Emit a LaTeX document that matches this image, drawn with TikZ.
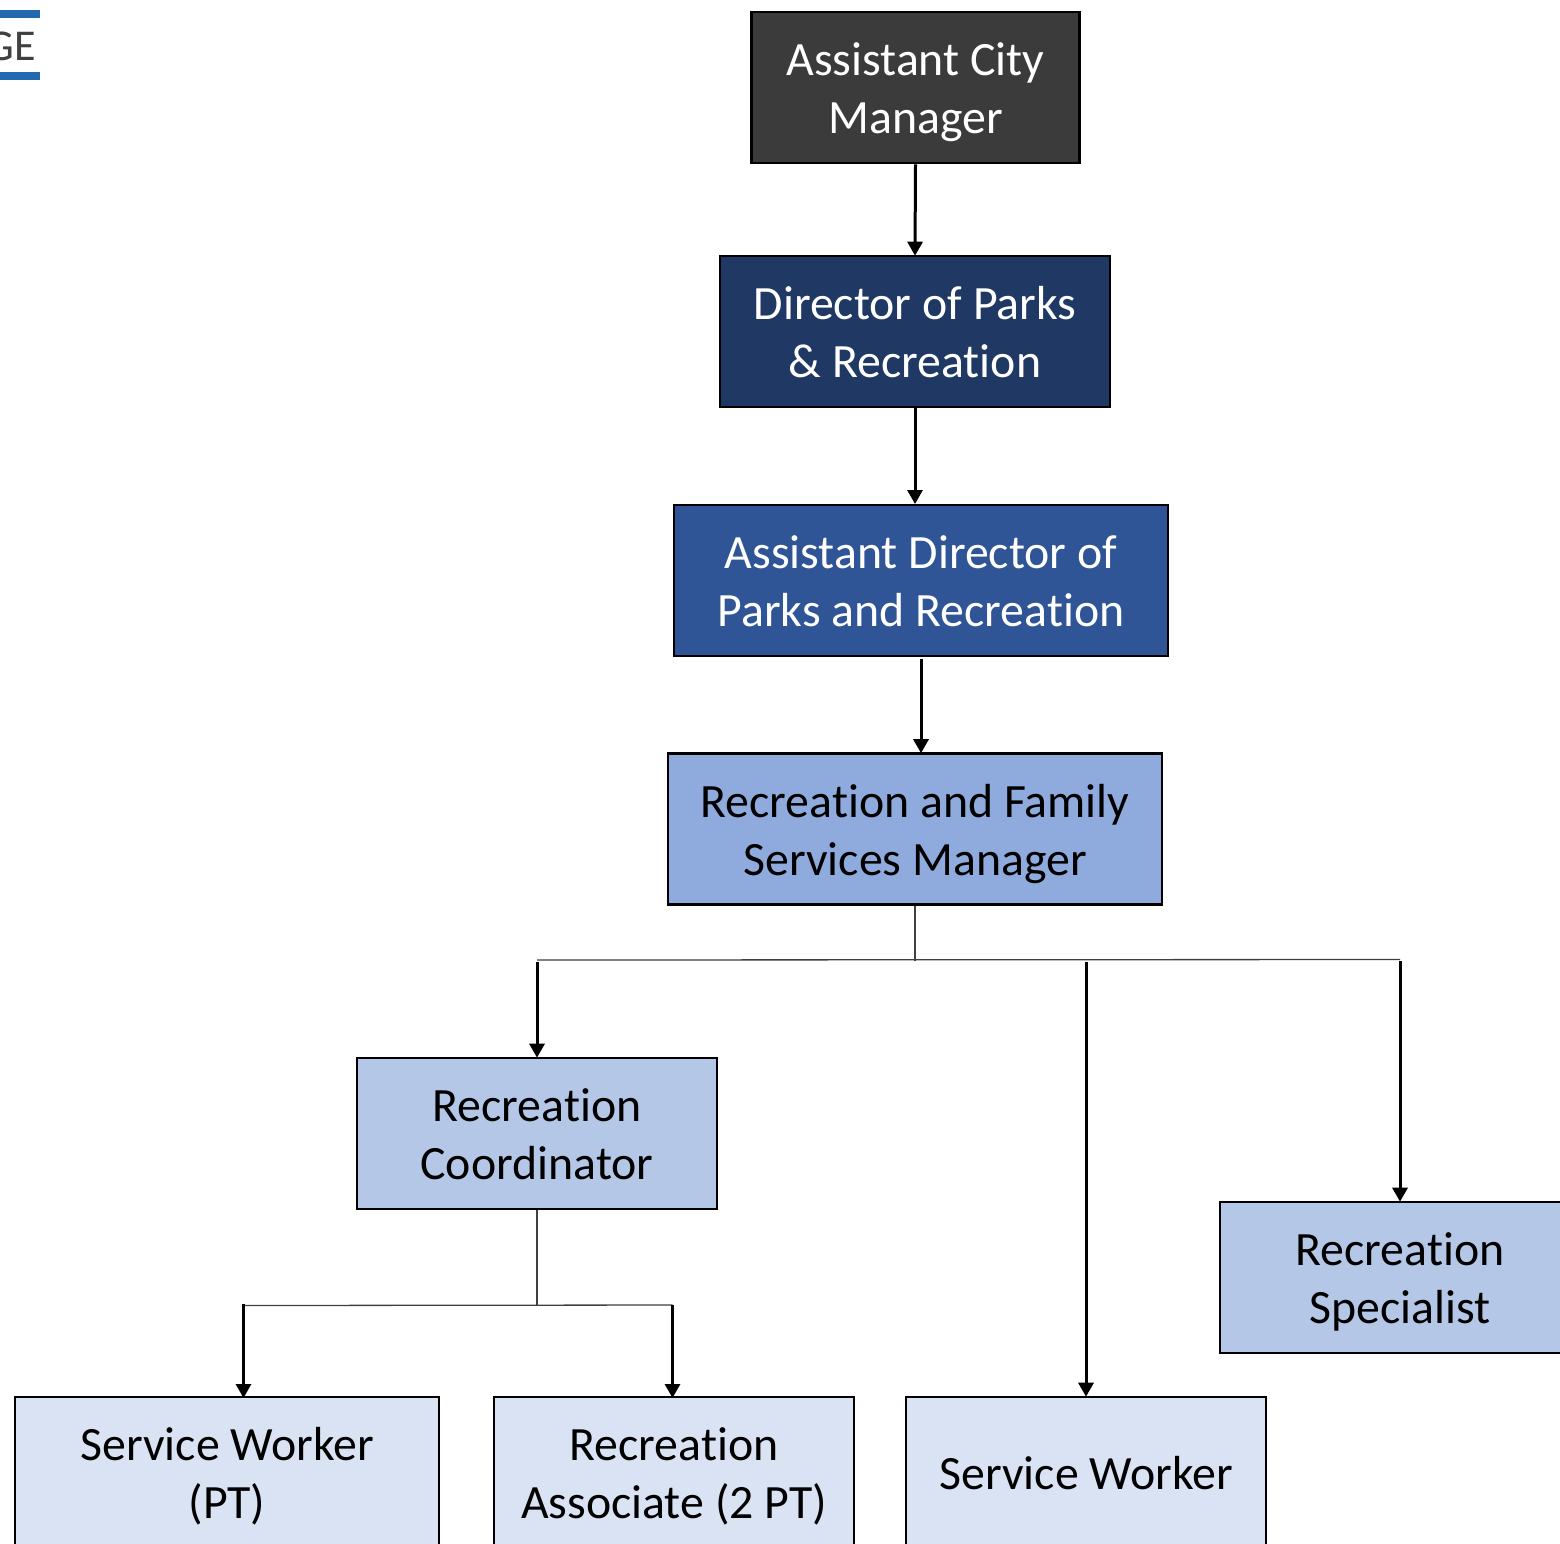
\documentclass[tikz,border=0pt]{standalone}
\usepackage{fontspec}
\setmainfont[RawFeature={-liga}]{Carlito}
\usetikzlibrary{arrows.meta}
\definecolor{cA}{HTML}{3B3B3B}
\definecolor{cB}{HTML}{1F3864}
\definecolor{cC}{HTML}{2F5597}
\definecolor{cD}{HTML}{8FAADC}
\definecolor{cE}{HTML}{B4C7E7}
\definecolor{cF}{HTML}{DAE3F3}
\definecolor{logoblue}{HTML}{2369B0}
\newcommand{\lnst}{\rule[-12pt]{0pt}{58pt}}
\tikzset{
  orgbox/.style={draw=black,line width=2.6pt,align=center,inner sep=0pt,
    minimum height=151pt,font=\fontsize{47.8}{58}\selectfont},
  onward/.style={line width=3pt,-{Triangle[length=14pt,width=15pt]},shorten >=-1pt},
  feeder/.style={line width=1.3pt,draw=black!75},
  logobar/.style={fill=logoblue,draw=none,minimum width=48pt,minimum height=8pt,inner sep=0pt}
}
\begin{document}
\begin{tikzpicture}[x=1pt,y=-1pt]
\useasboundingbox (0,0) rectangle (1560,1543);
\clip (0,0) rectangle (1560,1543);
\fill[white] (0,0) rectangle (1560,1543);
% logo fragment
\node[logobar] (barA) at (16,13.5) {};
\node[logobar] (barB) at (16,76) {};
\node[anchor=east,inner sep=0pt,text=black!75,font=\fontsize{44}{44}\selectfont] (logo) at (36,46.5) {NGE};
% boxes
\node[orgbox,fill=cA,text=white,minimum width=328pt] (acm) at (915.5,87.5) {\lnst Assistant City\\\lnst Manager};
\node[orgbox,fill=cB,text=white,minimum width=390pt] (dir) at (915,331.5) {\lnst Director of Parks\\\lnst\& Recreation};
\node[orgbox,fill=cC,text=white,minimum width=494pt] (adir) at (921,580.5) {\lnst Assistant Director of\\\lnst Parks and Recreation};
\node[orgbox,fill=cD,minimum width=494pt] (mgr) at (915,829) {\lnst Recreation and Family\\\lnst Services Manager};
\node[orgbox,fill=cE,minimum width=360pt] (coord) at (537,1133.5) {\lnst Recreation\\\lnst Coordinator};
\node[orgbox,fill=cE,minimum width=360pt] (spec) at (1400,1277.5) {\lnst Recreation\\\lnst Specialist};
\node[orgbox,fill=cF,minimum width=424pt] (swpt) at (227,1472.5) {\lnst Service Worker\\\lnst (PT)};
\node[orgbox,fill=cF,minimum width=360pt] (assoc) at (674,1472.5) {\lnst Recreation\\\lnst Associate (2 PT)};
\node[orgbox,fill=cF,minimum width=360pt] (sw) at (1086,1472.5) {\lnst Service Worker};
% named free ends
\coordinate (dirout) at (dir.south);
\coordinate (adirin) at (915,503);
\coordinate (adirout) at (921,659);
\coordinate (mgrin) at (adirout |- mgr.north);
\coordinate (busdrop) at (915,961);
\coordinate (busL) at (537,960);
\coordinate (busR) at (1400,959.5);
\coordinate (dropL) at (537,962);
\coordinate (dropM) at (1086,962);
\coordinate (dropR) at (1400,961);
\coordinate (subjoin) at (537,1305);
\coordinate (subL) at (243.5,1305.5);
\coordinate (subR) at (672.5,1305);
\coordinate (subLtop) at (243.5,1304);
\coordinate (swptin) at (243.5,1397);
\coordinate (associn) at (672.5,1397);
% connectors
\draw[onward] (acm.south) -- (dir.north);
\draw[onward] (dirout) -- (adirin);
\draw[onward] (adirout) -- (mgrin);
\draw[feeder] (mgr.south) -- (busdrop);
\draw[feeder] (busL) -- (busR);
\draw[onward] (dropL) -- (coord.north);
\draw[onward] (dropM) -- (sw.north);
\draw[onward] (dropR) -- (spec.north);
\draw[feeder] (coord.south) -- (subjoin);
\draw[feeder] (subL) -- (subR);
\draw[onward] (subLtop) -- (swptin);
\draw[onward] (subR) -- (associn);
\end{tikzpicture}
\end{document}
